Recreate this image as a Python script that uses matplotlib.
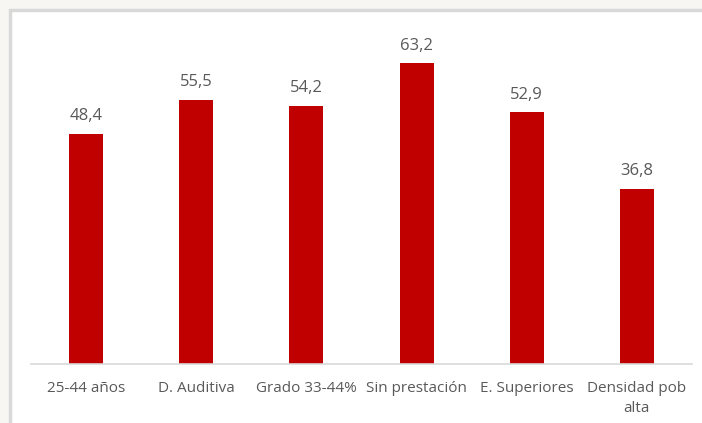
import matplotlib.pyplot as plt
from matplotlib.patches import Rectangle

# Values
categories = ['25-44 años', 'D. Auditiva', 'Grado 33-44%', 'Sin prestación',
              'E. Superiores', 'Densidad pob\nalta']
values = [48.4, 55.5, 54.2, 63.2, 52.9, 36.8]

bar_color = '#c00000'
text_color = '#595959'

plt.rcParams['font.family'] = ['Open Sans', 'DejaVu Sans']

fig = plt.figure(figsize=(7.02, 4.23), dpi=100, facecolor='#f7f6f2')

# chart frame (white box with light grey border), behind the axes
frame = Rectangle((10 / 702, -0.1), 1.0, (423 - 10) / 423 + 0.1,
                  transform=fig.transFigure, facecolor='white',
                  edgecolor='#d9d9d9', linewidth=2.5, zorder=-1)
fig.patches.append(frame)

ax = fig.add_axes([31 / 702, 59 / 423, 661 / 702, 333 / 423])
ax.set_facecolor('none')

x = range(len(categories))
bars = ax.bar(x, values, width=0.31, color=bar_color, zorder=2)

for b, v in zip(bars, values):
    ax.annotate(f'{v:.1f}'.replace('.', ','),
                (b.get_x() + b.get_width() / 2, v),
                xytext=(0, 7), textcoords='offset points',
                ha='center', va='bottom', fontsize=12, color=text_color)

ax.set_xlim(-0.5, len(categories) - 0.5)
ax.set_ylim(0, 70)
ax.set_xticks(list(x))
ax.set_xticklabels(categories, fontsize=11, color=text_color, linespacing=1.45)
ax.tick_params(axis='x', length=0, pad=12)
ax.set_yticks([])
for side in ['top', 'right', 'left']:
    ax.spines[side].set_visible(False)
ax.spines['bottom'].set_color('#d9d9d9')
ax.spines['bottom'].set_linewidth(1.2)

fig.savefig('out.png', dpi=100, facecolor=fig.get_facecolor())
